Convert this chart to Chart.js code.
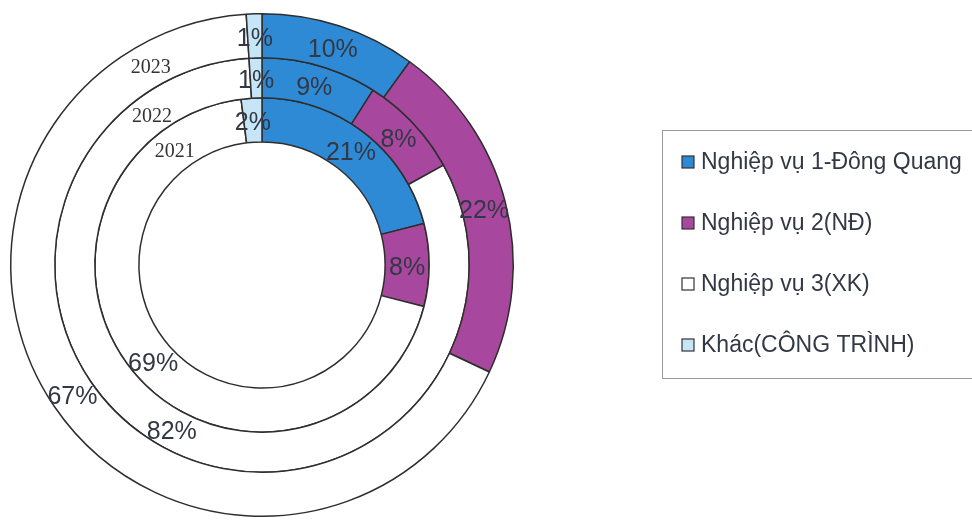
<!DOCTYPE html>
<html>
<head>
<meta charset="utf-8">
<script src="https://cdn.jsdelivr.net/npm/chart.js@4"></script>
<style>
  html, body { margin: 0; padding: 0; background: #ffffff; }
  #wrap { width: 972px; height: 521px; position: relative; }
</style>
</head>
<body>
<div id="wrap"><canvas id="ringChart" width="972" height="521"></canvas></div>
<script>
const categories = ["Nghiệp vụ 1-Đông Quang", "Nghiệp vụ 2(NĐ)", "Nghiệp vụ 3(XK)", "Khác(CÔNG TRÌNH)"];
const years = ["2023", "2022", "2021"];
const values2023 = [10, 22, 67, 1];
const values2022 = [9, 8, 82, 1];
const values2021 = [21, 8, 69, 2];
const colors = ["#2f8ad6", "#a8479e", "#ffffff", "#c6e5f6"];

// where each year name sits around its ring (degrees, canvas angle)
const yearAngles = [-119, -126, -127];

// year names beside each ring, percentages inside each slice
const ringLabels = {
  id: "ringLabels",
  afterDatasetsDraw(chart) {
    const ctx = chart.ctx;
    ctx.save();
    ctx.textAlign = "center";
    ctx.textBaseline = "middle";
    chart.data.datasets.forEach((ds, i) => {
      const meta = chart.getDatasetMeta(i);
      ctx.font = "25px 'Liberation Sans', Arial, sans-serif";
      ctx.fillStyle = "#323844";
      meta.data.forEach((arc, j) => {
        const p = arc.tooltipPosition();
        ctx.fillText(ds.data[j] + "%", p.x, p.y + 3);
      });
      const a0 = meta.data[0];
      const r = (a0.innerRadius + a0.outerRadius) / 2;
      const ang = yearAngles[i] * Math.PI / 180;
      ctx.font = "20px 'Liberation Serif', 'Times New Roman', serif";
      ctx.fillStyle = "#333333";
      ctx.fillText(ds.label, a0.x + r * Math.cos(ang), a0.y + r * Math.sin(ang) + 3);
    });
    ctx.restore();
  }
};

// boxed legend on the right
const boxLegend = {
  id: "boxLegend",
  afterDraw(chart) {
    const ctx = chart.ctx;
    ctx.save();
    ctx.strokeStyle = "#9a9a9a";
    ctx.lineWidth = 1;
    ctx.strokeRect(662.5, 130.5, 330, 248);
    ctx.font = "23px 'Liberation Sans', Arial, sans-serif";
    ctx.textBaseline = "middle";
    categories.forEach((name, k) => {
      const y = 162 + k * 61;
      ctx.fillStyle = colors[k];
      ctx.fillRect(682, y - 6, 12, 12);
      ctx.strokeStyle = "#333333";
      ctx.lineWidth = 1.2;
      ctx.strokeRect(682, y - 6, 12, 12);
      ctx.fillStyle = "#323844";
      ctx.fillText(name, 701, y + 1);
    });
    ctx.restore();
  }
};

new Chart(document.getElementById("ringChart"), {
  type: "doughnut",
  data: {
    labels: categories,
    datasets: [
      { label: years[0], data: values2023, weight: 44 },
      { label: years[1], data: values2022, weight: 40 },
      { label: years[2], data: values2021, weight: 44 }
    ].map(ds => Object.assign(ds, {
      backgroundColor: colors,
      borderColor: "#2e2e2e",
      borderWidth: 1.5
    }))
  },
  options: {
    responsive: false,
    animation: false,
    cutout: "49%",
    layout: { padding: { left: 10, right: 458, top: 13, bottom: 4 } },
    plugins: {
      legend: { display: false },
      tooltip: { enabled: false }
    }
  },
  plugins: [ringLabels, boxLegend]
});
</script>
</body>
</html>
